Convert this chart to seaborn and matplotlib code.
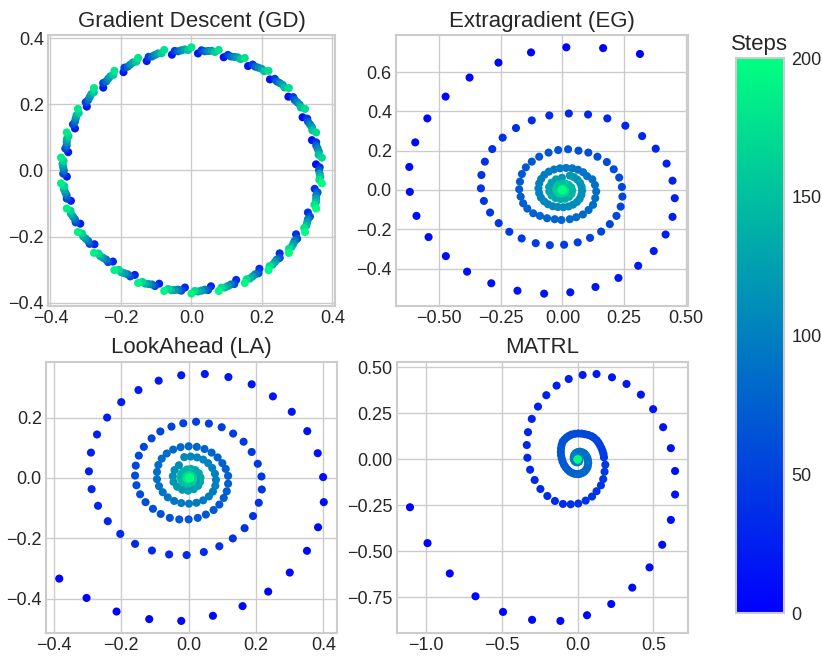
import matplotlib
matplotlib.use("Agg")
import matplotlib.pyplot as plt
from matplotlib.ticker import MultipleLocator
import pandas as pd
import seaborn as sns

sns.set_theme(style="whitegrid")
plt.rcParams['font.family'] = ['Liberation Sans', 'DejaVu Sans']
plt.rcParams['axes.edgecolor'] = '.8'
plt.rcParams['grid.color'] = '.8'

# ---- Gradient Descent: points on a slowly growing circle ----
gd_x = [0.362, 0.3535, 0.3615, 0.3541, 0.3419, 0.3417, 0.3307, 0.3154, 0.3070, 0.2929, 0.2751, 0.2588,
        0.2422, 0.2228, 0.1993, 0.1810, 0.1607, 0.1312, 0.1119, 0.0916, 0.0572, 0.0378, 0.0185,
        -0.0191, -0.0378, -0.0554, -0.0947, -0.1119, -0.1269, -0.1662, -0.1810, -0.1928, -0.2303, -0.2422,
        -0.2503, -0.2844, -0.2929, -0.2969, -0.3261, -0.3307, -0.3305, -0.3535, -0.3541, -0.3497, -0.3655,
        -0.362, -0.3535, -0.3615, -0.3541, -0.3419, -0.3417, -0.3307, -0.3154, -0.3070, -0.2929, -0.2751,
        -0.2588, -0.2422, -0.2228, -0.1993, -0.1810, -0.1607, -0.1312, -0.1119, -0.0916, -0.0572, -0.0378, -0.0185,
        0.0191, 0.0378, 0.0554, 0.0947, 0.1119, 0.1269, 0.1662, 0.1810, 0.1928, 0.2303, 0.2422,
        0.2503, 0.2844, 0.2929, 0.2969, 0.3261, 0.3307, 0.3305, 0.3535, 0.3541, 0.3497, 0.3655,
        0.370, 0.3538, 0.3222, 0.2764, 0.2187, 0.1513, 0.0773, 0.0, -0.0773, -0.1513, -0.2187, -0.2764,
        -0.3222, -0.3538, -0.370, -0.370, -0.3538, -0.3222, -0.2764, -0.2187, -0.1513, -0.0773, 0.0, 0.0773,
        0.1513, 0.2187, 0.2764, 0.3222, 0.3538, 0.370,
        0.3639, 0.3609, 0.3579, 0.3539, 0.3431, 0.3363, 0.3285, 0.3104, 0.3000, 0.2888, 0.2640, 0.2506,
        0.2364, 0.2062, 0.1902, 0.1737, 0.1393, 0.1215, 0.1034, 0.0663, 0.0475, 0.0286,
        -0.0095, -0.0286, -0.0475, -0.0850, -0.1034, -0.1215, -0.1567, -0.1737, -0.1902, -0.2216, -0.2364,
        -0.2506, -0.2768, -0.2888, -0.3000, -0.3199, -0.3285, -0.3363, -0.3490, -0.3539, -0.3579, -0.3629, -0.3639,
        -0.3639, -0.3609, -0.3579, -0.3539, -0.3431, -0.3363, -0.3285, -0.3104, -0.3000, -0.2888, -0.2640, -0.2506,
        -0.2364, -0.2062, -0.1902, -0.1737, -0.1393, -0.1215, -0.1034, -0.0663, -0.0475, -0.0286,
        0.0095, 0.0286, 0.0475, 0.0850, 0.1034, 0.1215, 0.1567, 0.1737, 0.1902, 0.2216, 0.2364,
        0.2506, 0.2768, 0.2888, 0.3000, 0.3199, 0.3285, 0.3363, 0.3490, 0.3539, 0.3579, 0.3629, 0.3639]
gd_y = [0.0, 0.0185, 0.0572, 0.0753, 0.0916, 0.1312, 0.1472, 0.1607, 0.1993, 0.2128, 0.2228, 0.2588,
        0.2690, 0.2751, 0.3070, 0.3135, 0.3154, 0.3417, 0.3443, 0.3419, 0.3615, 0.3600, 0.3535,
        0.3655, 0.3600, 0.3497, 0.3535, 0.3443, 0.3305, 0.3261, 0.3135, 0.2969, 0.2844, 0.2690,
        0.2503, 0.2303, 0.2128, 0.1928, 0.1662, 0.1472, 0.1269, 0.0947, 0.0753, 0.0554, 0.0191,
        0.0, -0.0185, -0.0572, -0.0753, -0.0916, -0.1312, -0.1472, -0.1607, -0.1993, -0.2128, -0.2228,
        -0.2588, -0.2690, -0.2751, -0.3070, -0.3135, -0.3154, -0.3417, -0.3443, -0.3419, -0.3615, -0.3600, -0.3535,
        -0.3655, -0.3600, -0.3497, -0.3535, -0.3443, -0.3305, -0.3261, -0.3135, -0.2969, -0.2844, -0.2690,
        -0.2503, -0.2303, -0.2128, -0.1928, -0.1662, -0.1472, -0.1269, -0.0947, -0.0753, -0.0554, -0.0191,
        0.0389, 0.1149, 0.186, 0.2489, 0.3009, 0.3398, 0.3639, 0.372, 0.3639, 0.3398, 0.3009, 0.2489,
        0.186, 0.1149, 0.0389, -0.0389, -0.1149, -0.186, -0.2489, -0.3009, -0.3398, -0.3639, -0.372, -0.3639,
        -0.3398, -0.3009, -0.2489, -0.186, -0.1149, -0.0389,
        0.0095, 0.0475, 0.0663, 0.0850, 0.1215, 0.1393, 0.1567, 0.1902, 0.2062, 0.2216, 0.2506, 0.2640,
        0.2768, 0.3000, 0.3104, 0.3199, 0.3363, 0.3431, 0.3490, 0.3579, 0.3609, 0.3629,
        0.3639, 0.3629, 0.3609, 0.3539, 0.3490, 0.3431, 0.3285, 0.3199, 0.3104, 0.2888, 0.2768,
        0.2640, 0.2364, 0.2216, 0.2062, 0.1737, 0.1567, 0.1393, 0.1034, 0.0850, 0.0663, 0.0286, 0.0095,
        -0.0095, -0.0475, -0.0663, -0.0850, -0.1215, -0.1393, -0.1567, -0.1902, -0.2062, -0.2216, -0.2506, -0.2640,
        -0.2768, -0.3000, -0.3104, -0.3199, -0.3363, -0.3431, -0.3490, -0.3579, -0.3609, -0.3629,
        -0.3639, -0.3629, -0.3609, -0.3539, -0.3490, -0.3431, -0.3285, -0.3199, -0.3104, -0.2888, -0.2768,
        -0.2640, -0.2364, -0.2216, -0.2062, -0.1737, -0.1567, -0.1393, -0.1034, -0.0850, -0.0663, -0.0286, -0.0095]
gd_step = [70, 10, 120, 71, 11, 121, 72, 12, 122, 73, 13, 123, 74, 14, 124, 75, 15, 125, 76, 16, 126,
           77, 17, 127, 78, 18, 128, 79, 19, 129, 80, 20, 130, 81, 21, 131, 82, 22, 132, 83, 23, 133,
           84, 24, 134, 85, 25, 135, 86, 26, 136, 87, 27, 137, 88, 28, 138, 89, 29, 139, 90, 30, 140,
           91, 31, 141, 92, 32, 142, 93, 33, 143, 94, 34, 144, 95, 35, 145, 96, 36, 146, 97, 37, 147,
           98, 38, 148, 99, 39, 149,
           170, 171, 172, 173, 174, 175, 176, 177, 178, 179, 180, 181, 182, 183, 184,
           185, 186, 187, 188, 189, 190, 191, 192, 193, 194, 195, 196, 197, 198, 199,
           40, 150, 100, 41, 151, 101, 42, 152, 102, 43, 153, 103, 44, 154, 104, 45, 155, 105,
           46, 156, 106, 47, 157, 107, 48, 158, 108, 49, 159, 109, 50, 160, 110, 51, 161, 111,
           52, 162, 112, 53, 163, 113, 54, 164, 114, 55, 165, 115, 56, 166, 116, 57, 167, 117,
           58, 168, 118, 59, 169, 119, 60, 170, 120, 61, 171, 121, 62, 172, 122, 63, 173, 123,
           64, 174, 124, 65, 175, 125, 66, 176, 126, 67, 177, 127, 68, 178, 128, 69, 179, 129]

# ---- Extragradient ----
eg_x = [0.314, 0.165, 0.016, -0.127, -0.259, -0.376, -0.473, -0.547, -0.596, -0.620,
        -0.618, -0.591, -0.542, -0.472, -0.386, -0.288, -0.182, -0.074, 0.032, 0.134,
        0.227, 0.307, 0.370, 0.418, 0.446, 0.455, 0.446, 0.422, 0.378, 0.323,
        0.255, 0.182, 0.104, 0.026, -0.053, -0.124, -0.188, -0.242, -0.284, -0.314,
        -0.328, -0.330, -0.318, -0.293, -0.258, -0.215, -0.165, -0.108, -0.051, 0.007,
        0.062, 0.112, 0.157, 0.192, 0.219, 0.236, 0.243, 0.241, 0.230, 0.208,
        0.180, 0.142, 0.105, 0.065, 0.023, -0.017, -0.056, -0.094, -0.124, -0.148,
        -0.164, -0.172, -0.175, -0.169, -0.159, -0.142, -0.118, -0.091, -0.062, -0.031,
        -0.004, 0.030, 0.056, 0.083, 0.106, 0.124, 0.133, 0.137, 0.132, 0.121,
        0.100, 0.084, 0.063, 0.040, 0.015, -0.010, -0.034, -0.055, -0.073, -0.086,
        -0.094, -0.097, -0.094, -0.087, -0.074, -0.058, -0.039, -0.018, 0.004, 0.025,
        0.043, 0.059, 0.070, 0.077, 0.080, 0.078, 0.072, 0.061, 0.047, 0.030,
        -0.002, -0.026, -0.044, -0.054, -0.053, -0.044, -0.028, -0.008, 0.011, 0.027,
        0.037, 0.040, 0.036, 0.026, 0.013, -0.001, -0.013, -0.021, -0.025, -0.024,
        -0.019, -0.011, -0.003, 0.004, 0.009, 0.011, 0.010, 0.008, 0.006, 0.003,
        0.000, -0.002, -0.003, -0.004, -0.003, -0.002, -0.001, 0.001, 0.001, 0.000]
eg_y = [0.692, 0.722, 0.726, 0.700, 0.648, 0.572, 0.475, 0.364, 0.242, 0.117,
        -0.010, -0.132, -0.240, -0.337, -0.416, -0.475, -0.513, -0.528, -0.521, -0.494,
        -0.448, -0.386, -0.311, -0.227, -0.137, -0.042, 0.047, 0.134, 0.210, 0.274,
        0.327, 0.364, 0.384, 0.389, 0.379, 0.354, 0.315, 0.266, 0.208, 0.144,
        0.076, 0.008, -0.056, -0.115, -0.169, -0.213, -0.247, -0.271, -0.281, -0.279,
        -0.267, -0.244, -0.212, -0.174, -0.132, -0.085, -0.034, 0.015, 0.063, 0.105,
        0.142, 0.169, 0.190, 0.200, 0.207, 0.203, 0.190, 0.169, 0.144, 0.115,
        0.081, 0.042, 0.003, -0.034, -0.068, -0.095, -0.119, -0.132, -0.144, -0.149,
        -0.153, -0.149, -0.139, -0.125, -0.102, -0.076, -0.042, -0.008, 0.025, 0.054,
        0.070, 0.090, 0.103, 0.110, 0.112, 0.110, 0.104, 0.093, 0.077, 0.056,
        0.033, 0.008, -0.017, -0.039, -0.058, -0.073, -0.083, -0.087, -0.088, -0.084,
        -0.075, -0.061, -0.045, -0.025, -0.004, 0.016, 0.035, 0.052, 0.065, 0.073,
        0.062, 0.054, 0.037, 0.015, -0.008, -0.028, -0.041, -0.047, -0.045, -0.035,
        -0.020, -0.003, 0.013, 0.025, 0.032, 0.032, 0.027, 0.018, 0.007, -0.003,
        -0.012, -0.017, -0.018, -0.016, -0.011, -0.006, -0.001, 0.003, 0.006, 0.006,
        0.006, 0.004, 0.003, 0.001, 0.000, -0.002, -0.002, -0.002, 0.000, 0.001]
eg_step = [0, 1, 2, 3, 4, 5, 6, 7, 8, 9, 10, 11, 12, 13, 14, 15, 16, 17, 18, 19,
           20, 21, 22, 23, 24, 25, 26, 27, 28, 29, 30, 31, 32, 33, 34, 35, 36, 37, 38, 39,
           40, 41, 42, 43, 44, 45, 46, 47, 48, 49, 50, 51, 52, 53, 54, 55, 56, 57, 58, 59,
           60, 61, 62, 63, 64, 65, 66, 67, 68, 69, 70, 71, 72, 73, 74, 75, 76, 77, 78, 79,
           80, 81, 82, 83, 84, 85, 86, 87, 88, 89, 90, 91, 92, 93, 94, 95, 96, 97, 98, 99,
           100, 101, 102, 103, 104, 105, 106, 107, 108, 109, 110, 111, 112, 113, 114, 115, 116, 117, 118, 119,
           120, 122, 124, 126, 128, 130, 132, 134, 136, 138, 140, 142, 144, 146, 148, 150, 152, 154, 156, 158,
           160, 162, 164, 166, 168, 170, 172, 174, 176, 178, 180, 182, 184, 186, 188, 190, 192, 194, 196, 199]

# ---- LookAhead ----
la_x = [-0.384, -0.303, -0.214, -0.117, -0.022, 0.072, 0.160, 0.236, 0.300, 0.351,
        0.384, 0.401, 0.399, 0.383, 0.352, 0.306, 0.250, 0.187, 0.118, 0.048,
        -0.022, -0.089, -0.149, -0.200, -0.242, -0.272, -0.290, -0.296, -0.288, -0.269,
        -0.240, -0.203, -0.159, -0.109, -0.058, -0.006, 0.045, 0.091, 0.131, 0.166,
        0.191, 0.208, 0.217, 0.216, 0.205, 0.187, 0.163, 0.132, 0.098, 0.060,
        0.022, -0.016, -0.051, -0.084, -0.110, -0.133, -0.148, -0.157, -0.159, -0.155,
        -0.144, -0.128, -0.106, -0.083, -0.056, -0.028, 0.000, 0.027, 0.051, 0.074,
        0.091, 0.104, 0.113, 0.117, 0.117, 0.110, 0.100,
        0.086, 0.068, 0.047, 0.024, 0.000, -0.024, -0.046, -0.065, -0.080, -0.090,
        -0.094, -0.094, -0.088, -0.077, -0.062, -0.043, -0.022, 0.001, 0.023, 0.043,
        0.060, 0.072, 0.079, 0.081, 0.078, 0.070, 0.058, 0.043, 0.025, 0.006, -0.013,
        -0.029, -0.042, -0.047, -0.045, -0.034, -0.019, -0.002, 0.015, 0.028, 0.034,
        0.035, 0.030, 0.020, 0.007, -0.005, -0.015, -0.022, -0.024, -0.022, -0.016,
        -0.009, -0.001, 0.006, 0.010, 0.012, 0.012, 0.010, 0.006, 0.002, -0.002,
        -0.005, -0.006, -0.006, -0.006, -0.004, -0.002, 0.001, 0.002, 0.003, 0.003,
        0.003, 0.002, 0.002, 0.002, 0.003, 0.005]
la_y = [-0.333, -0.397, -0.442, -0.467, -0.473, -0.456, -0.424, -0.376, -0.313, -0.241,
        -0.163, -0.080, 0.003, 0.082, 0.155, 0.219, 0.270, 0.310, 0.334, 0.344,
        0.340, 0.322, 0.291, 0.251, 0.200, 0.144, 0.084, 0.022, -0.037, -0.092,
        -0.143, -0.185, -0.218, -0.240, -0.253, -0.255, -0.245, -0.226, -0.200, -0.166,
        -0.126, -0.082, -0.038, 0.005, 0.047, 0.086, 0.120, 0.147, 0.168, 0.180,
        0.186, 0.181, 0.170, 0.154, 0.131, 0.103, 0.074, 0.041, 0.008, -0.024,
        -0.054, -0.080, -0.102, -0.119, -0.132, -0.137, -0.137, -0.132, -0.121, -0.106,
        -0.088, -0.066, -0.044, -0.019, 0.007, 0.030, 0.049,
        0.068, 0.084, 0.096, 0.103, 0.105, 0.102, 0.094, 0.081, 0.064, 0.043,
        0.020, -0.004, -0.027, -0.047, -0.064, -0.076, -0.083, -0.085, -0.082, -0.074,
        -0.061, -0.045, -0.026, -0.006, 0.014, 0.033, 0.049, 0.061, 0.068, 0.071, 0.069,
        0.042, 0.026, 0.006, -0.013, -0.029, -0.039, -0.042, -0.037, -0.026, -0.013,
        0.002, 0.016, 0.026, 0.030, 0.028, 0.022, 0.014, 0.003, -0.006, -0.014,
        -0.018, -0.018, -0.015, -0.010, -0.004, 0.001, 0.006, 0.008, 0.010, 0.009,
        0.006, 0.004, 0.001, -0.002, -0.003, -0.004, -0.004, -0.002, -0.001, 0.001,
        0.002, 0.002, 0.001, 0.000, 0.000, 0.000]
la_step = [0, 1, 2, 3, 4, 5, 6, 7, 8, 9, 10, 11, 12, 13, 14, 15, 16, 17, 18, 19,
           20, 21, 22, 23, 24, 25, 26, 27, 28, 29, 30, 31, 32, 33, 34, 35, 36, 37, 38, 39,
           40, 41, 42, 43, 44, 45, 46, 47, 48, 49, 50, 51, 52, 53, 54, 55, 56, 57, 58, 59,
           60, 61, 62, 63, 64, 65, 66, 67, 68, 69, 70, 71, 72, 73, 74, 75, 76,
           77, 78, 79, 80, 81, 82, 83, 84, 85, 86, 87, 88, 89, 90, 91, 92, 93, 94, 95, 96,
           97, 98, 99, 100, 101, 102, 103, 104, 105, 106, 107,
           110, 112, 114, 116, 118, 120, 122, 124, 126, 128, 130, 132, 134, 136, 138, 140,
           142, 144, 146, 148, 150, 152, 154, 156, 158, 160, 162, 164, 166, 168, 170, 172,
           174, 176, 178, 180, 182, 184, 186, 188, 190, 192, 194, 196, 198, 199]

# ---- MATRL ----
ma_x = [-1.108, -0.992, -0.845, -0.675, -0.493, -0.301, -0.114, 0.062, 0.222, 0.361,
        0.475, 0.559, 0.616, 0.644, 0.644, 0.616, 0.565, 0.499, 0.418, 0.323,
        0.227, 0.125, 0.033, -0.059, -0.139, -0.207, -0.262, -0.303, -0.328, -0.336,
        -0.332, -0.314, -0.284, -0.246, -0.200, -0.150, -0.097, -0.046, 0.004, 0.053,
        0.095, 0.125, 0.154, 0.169, 0.178, 0.183,
        0.174, 0.171, 0.165, 0.157, 0.147, 0.137, 0.125, 0.109, 0.092, 0.070,
        0.048, 0.026, 0.004, -0.018, -0.040, -0.057, -0.073, -0.087, -0.099, -0.106,
        -0.110, -0.111, -0.110, -0.105, -0.099, -0.090, -0.079, -0.066, -0.051, -0.035,
        -0.018, -0.001, 0.015, 0.030, 0.044, 0.055, 0.064, 0.068, 0.070, 0.068,
        0.064, 0.055, 0.044, 0.030, 0.015, 0.000, -0.013, -0.022, -0.026, -0.025,
        -0.019, -0.010, 0.000, 0.008, 0.012, 0.011, 0.007, 0.002, -0.002, -0.003,
        -0.001, 0.001, 0.001,
        0.001, 0.000, 0.000, 0.000, 0.000]
ma_y = [-0.260, -0.455, -0.620, -0.744, -0.829, -0.872, -0.878, -0.847, -0.786, -0.697,
        -0.587, -0.464, -0.329, -0.191, -0.063, 0.061, 0.175, 0.273, 0.352, 0.410,
        0.446, 0.464, 0.459, 0.437, 0.401, 0.349, 0.287, 0.220, 0.148, 0.078,
        0.009, -0.056, -0.112, -0.161, -0.199, -0.226, -0.242, -0.244, -0.240, -0.224,
        -0.202, -0.173, -0.141, -0.107, -0.067, -0.029,
        0.011, 0.028, 0.045, 0.062, 0.078, 0.092, 0.105, 0.117, 0.126, 0.133,
        0.137, 0.140, 0.141, 0.139, 0.135, 0.128, 0.119, 0.108, 0.096, 0.078,
        0.060, 0.041, 0.023, 0.005, -0.013, -0.029, -0.043, -0.056, -0.067, -0.074,
        -0.079, -0.080, -0.079, -0.074, -0.067, -0.057, -0.045, -0.032, -0.018, -0.004,
        0.009, 0.022, 0.033, 0.039, 0.042, 0.040, 0.034, 0.024, 0.012, 0.000,
        -0.010, -0.015, -0.016, -0.012, -0.005, 0.002, 0.006, 0.007, 0.005, 0.001,
        -0.002, -0.002, 0.000,
        0.001, 0.001, 0.000, 0.000, 0.000]
ma_step = [0, 1, 2, 3, 4, 5, 6, 7, 8, 9, 10, 11, 12, 13, 14, 15, 16, 17, 18, 19,
           20, 21, 22, 23, 24, 25, 26, 27, 28, 29, 30, 31, 32, 33, 34, 35, 36, 37, 38, 39,
           40, 41, 42, 43, 44, 45,
           46, 47, 48, 49, 50, 51, 52, 53, 54, 55, 56, 57, 58, 59, 60, 61, 62, 63, 64, 65,
           66, 67, 68, 69, 70, 71, 72, 73, 74, 75, 76, 77, 78, 79, 80, 81, 82, 83, 84, 85,
           86, 87, 88, 89, 90, 91, 92, 93, 94, 95, 96, 97, 98, 99, 100, 101, 102, 103, 104, 105,
           106, 107, 108,
           120, 140, 160, 180, 199]

panels = [
    ("Gradient Descent (GD)", gd_x, gd_y, gd_step, 0.2, 0.2, [0.0584, 0.5364, 0.349, 0.4106]),
    ("Extragradient (EG)", eg_x, eg_y, eg_step, 0.25, 0.2, [0.4818, 0.5364, 0.3552, 0.4106]),
    ("LookAhead (LA)", la_x, la_y, la_step, 0.2, 0.2, [0.056, 0.0405, 0.354, 0.4115]),
    ("MATRL", ma_x, ma_y, ma_step, 0.5, 0.25, [0.4826, 0.0405, 0.3548, 0.4115]),
]

fig = plt.figure(figsize=(8.22, 6.6), dpi=100)

for title, xs, ys, steps, xstep, ystep, pos in panels:
    ax = fig.add_axes(pos)
    df = pd.DataFrame({"x": xs, "y": ys, "step": steps}).sort_values("step", kind="stable")
    sns.scatterplot(data=df, x="x", y="y", hue="step", palette="winter",
                    hue_norm=(0, 200), legend=False, s=34, linewidth=0, ax=ax)
    ax.set_title(title, fontsize=16, color='.15')
    ax.set_xlabel("")
    ax.set_ylabel("")
    ax.xaxis.set_major_locator(MultipleLocator(xstep))
    ax.yaxis.set_major_locator(MultipleLocator(ystep))
    ax.tick_params(labelsize=13, colors='.15', length=0, pad=3)
    for sp in ax.spines.values():
        sp.set_color('.8')
        sp.set_linewidth(1.5)

sm = plt.cm.ScalarMappable(cmap="winter", norm=plt.Normalize(0, 200))
cax = fig.add_axes([0.895, 0.071, 0.059, 0.841])
cb = fig.colorbar(sm, cax=cax)
cb.set_ticks([0, 50, 100, 150, 200])
cb.ax.tick_params(labelsize=13, colors='.15', length=0, pad=5)
cb.ax.set_title("Steps", fontsize=16, color='.15')
cb.outline.set_edgecolor('.8')
cb.outline.set_linewidth(1.5)

fig.savefig("out.png", dpi=100)
